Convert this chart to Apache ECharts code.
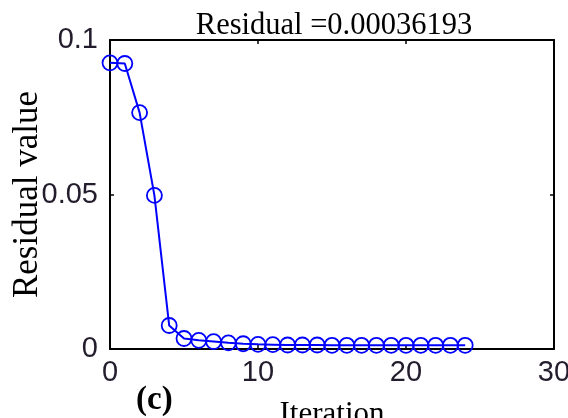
<!DOCTYPE html>
<html>
<head>
<meta charset="utf-8">
<script src="https://cdn.jsdelivr.net/npm/echarts@6/dist/echarts.min.js"></script>
<style>
  html, body { margin: 0; padding: 0; background: #fff; }
  #chart { width: 568px; height: 418px; }
</style>
</head>
<body>
<div id="chart"></div>
<script>
// Residual value at each iteration of the solver
const iterations = [0, 1, 2, 3, 4, 5, 6, 7, 8, 9, 10, 11, 12, 13, 14, 15, 16, 17, 18, 19, 20, 21, 22, 23, 24];
const residuals = [0.0926, 0.0924, 0.0765, 0.0497, 0.0076, 0.0034, 0.0028, 0.0024, 0.0020, 0.0017,
                   0.0015, 0.0014, 0.0013, 0.0013, 0.0013, 0.0012, 0.0012, 0.0012, 0.0012, 0.0012,
                   0.0012, 0.0012, 0.0012, 0.0012, 0.0012];
const xTicks = [0, 10, 20, 30];
const yTicks = [0, 0.05, 0.1];
const titleText = 'Residual =0.00036193';
const panelTag = '(c)';

const chart = echarts.init(document.getElementById('chart'), null, { renderer: 'canvas' });

const tickFont = { fontFamily: 'Liberation Sans', fontSize: 29, color: '#231c2c' };
const frameLine = { show: true, onZero: false, lineStyle: { color: '#000', width: 2 } };
const innerTicks = { show: true, inside: true, length: 4, lineStyle: { color: '#000', width: 1.5 } };

chart.setOption({
  animation: false,
  backgroundColor: '#fff',
  title: {
    text: titleText,
    left: 329,
    textAlign: 'center',
    top: 5,
    textStyle: { fontFamily: 'Liberation Serif', fontSize: 30.5, fontWeight: 'normal', color: '#000' }
  },
  grid: { left: 110, right: 14, top: 40, bottom: 69, containLabel: false, outerBoundsMode: 'none' },
  xAxis: [{
    type: 'value', min: 0, max: 30, interval: 10,
    axisLine: frameLine, axisTick: innerTicks, splitLine: { show: false },
    axisLabel: Object.assign({ margin: 9, formatter: v => xTicks.includes(v) ? String(v) : '' }, tickFont),
    name: 'Iteration', nameLocation: 'middle', nameGap: 50, nameMoveOverlap: false,
    nameTextStyle: { fontFamily: 'Liberation Serif', fontSize: 31, color: '#000' }
  }, {
    type: 'value', position: 'top', min: 0, max: 30, interval: 10,
    axisLine: frameLine, axisTick: innerTicks, axisLabel: { show: false }, splitLine: { show: false }
  }],
  yAxis: [{
    type: 'value', min: 0, max: 0.1, interval: 0.05,
    axisLine: frameLine, axisTick: innerTicks, splitLine: { show: false },
    axisLabel: Object.assign({ margin: 12, formatter: v => {
      const t = yTicks.find(y => Math.abs(y - v) < 1e-9);
      return t === undefined ? '' : String(t);
    } }, tickFont),
    name: 'Residual value', nameLocation: 'middle', nameGap: 65, nameRotate: 90, nameMoveOverlap: false,
    nameTextStyle: { fontFamily: 'Liberation Serif', fontSize: 35, color: '#000' }
  }, {
    type: 'value', position: 'right', min: 0, max: 0.1, interval: 0.05,
    axisLine: frameLine, axisTick: innerTicks, axisLabel: { show: false }, splitLine: { show: false }
  }],
  graphic: [{
    type: 'text',
    left: 136, top: 384,
    style: { text: panelTag, font: 'bold 33px "Liberation Serif"', fill: '#000' }
  }],
  series: [{
    type: 'line',
    data: iterations.map((x, i) => [x, residuals[i]]),
    symbol: 'circle',
    symbolSize: 15,
    showAllSymbol: true,
    clip: false,
    lineStyle: { color: '#0000ff', width: 2 },
    itemStyle: { color: 'rgba(0,0,0,0)', borderColor: '#0000ff', borderWidth: 1.8 },
    z: 5
  }]
});
</script>
</body>
</html>
